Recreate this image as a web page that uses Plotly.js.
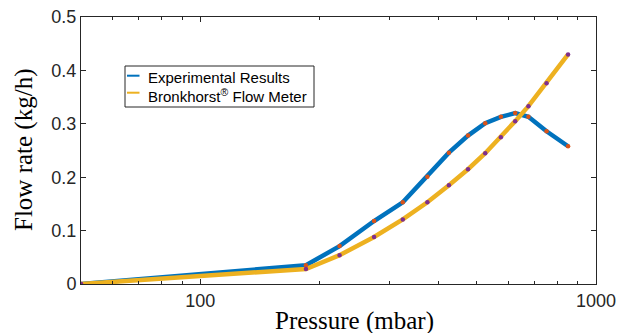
<!DOCTYPE html>
<html>
<head>
<meta charset="utf-8">
<script src="https://cdn.plot.ly/plotly-3.0.1.min.js"></script>
<style>html,body{margin:0;padding:0;background:#fff;}#chart{width:629px;height:333px;}</style>
</head>
<body>
<div id="chart"></div>
<script>
// Data
const pressure = [50, 185, 225, 275, 325, 375, 425, 475, 525, 575, 625, 675, 750, 850];
const experimental = [0, 0.035, 0.071, 0.118, 0.153, 0.201, 0.246, 0.278, 0.301, 0.313, 0.320, 0.313, 0.286, 0.258];
const bronkhorst = [0, 0.028, 0.054, 0.088, 0.121, 0.153, 0.185, 0.215, 0.245, 0.275, 0.305, 0.333, 0.376, 0.430];
const seriesNames = ['Experimental Results', 'Bronkhorst<sup>®</sup> Flow Meter'];
const xMajorTicks = [100, 1000];
const xMajorLabels = ['100', '1000'];
const xMinorTicks = [60, 70, 80, 90, 200, 300, 400, 500, 600, 700, 800, 900];
const yTicks = [0, 0.1, 0.2, 0.3, 0.4, 0.5];
const yTickLabels = ['0', '0.1', '0.2', '0.3', '0.4', '0.5'];

const BLUE = '#0072BD', YELLOW = '#EDB120', ORANGE = '#D95319', PURPLE = '#7E2F8E';
const AX = '#262626';

const traces = [
  {x: pressure, y: experimental, mode: 'lines', name: seriesNames[0], line: {color: BLUE, width: 4.5}, showlegend: false},
  {x: pressure, y: bronkhorst, mode: 'lines', name: seriesNames[1], line: {color: YELLOW, width: 4.5}, showlegend: false},
  {x: pressure, y: experimental, mode: 'markers', marker: {color: ORANGE, size: 4.5}, showlegend: false, hoverinfo: 'skip'},
  {x: pressure, y: bronkhorst, mode: 'markers', marker: {color: PURPLE, size: 4.5}, showlegend: false, hoverinfo: 'skip'}
];

// plot area geometry in px (for paper-coordinate placement)
const L = 81, R = 33, T = 17, B = 49, W = 629, H = 333;
const pw = W - L - R, ph = H - T - B;
const px = v => (v - L) / pw;
const py = v => (H - B - v) / ph;

const layout = {
  width: W, height: H,
  margin: {l: L, r: R, t: T, b: B, pad: 0},
  paper_bgcolor: '#fff', plot_bgcolor: '#fff',
  showlegend: false,
  font: {family: 'Liberation Sans, Arial, sans-serif', color: AX},
  xaxis: {
    type: 'log', range: [Math.log10(50), 3],
    tickmode: 'array', tickvals: xMajorTicks, ticktext: xMajorLabels,
    ticks: 'inside', ticklen: 5, tickwidth: 1, tickcolor: AX,
    minor: {tickmode: 'array', tickvals: xMinorTicks, ticks: 'inside', ticklen: 3, tickwidth: 1, tickcolor: AX, showgrid: false},
    showline: true, linecolor: AX, linewidth: 1, mirror: 'ticks',
    showgrid: false, zeroline: false,
    tickfont: {size: 18, color: AX, family: 'Liberation Sans, Arial, sans-serif'}
  },
  yaxis: {
    range: [0, 0.5],
    tickmode: 'array', tickvals: yTicks, ticktext: yTickLabels,
    ticks: 'inside', ticklen: 5, tickwidth: 1, tickcolor: AX,
    showline: true, linecolor: AX, linewidth: 1, mirror: 'ticks',
    showgrid: false, zeroline: false,
    tickfont: {size: 18, color: AX, family: 'Liberation Sans, Arial, sans-serif'}
  },
  shapes: [
    {type: 'rect', xref: 'paper', yref: 'paper', x0: px(125), x1: px(314), y0: py(107), y1: py(66),
     line: {color: AX, width: 1}, fillcolor: '#fff', layer: 'above'},
    {type: 'line', xref: 'paper', yref: 'paper', x0: px(127), x1: px(139.5), y0: py(75.7), y1: py(75.7),
     line: {color: BLUE, width: 2}, layer: 'above'},
    {type: 'line', xref: 'paper', yref: 'paper', x0: px(127), x1: px(139.5), y0: py(92.7), y1: py(92.7),
     line: {color: YELLOW, width: 2}, layer: 'above'}
  ],
  annotations: [
    {text: seriesNames[0], xref: 'paper', yref: 'paper', x: px(145.5), y: py(77.5), xanchor: 'left', yanchor: 'middle',
     showarrow: false, font: {size: 15, color: '#000', family: 'Liberation Sans, Arial, sans-serif'}},
    {text: seriesNames[1], xref: 'paper', yref: 'paper', x: px(145.5), y: py(95), xanchor: 'left', yanchor: 'middle',
     showarrow: false, font: {size: 15, color: '#000', family: 'Liberation Sans, Arial, sans-serif'}},
    {text: 'Pressure (mbar)', xref: 'paper', yref: 'paper', x: px(354), y: py(321), xanchor: 'center', yanchor: 'middle',
     showarrow: false, font: {size: 25, color: '#000', family: 'Liberation Serif, Times New Roman, serif'}},
    {text: 'Flow rate (kg/h)', xref: 'paper', yref: 'paper', x: px(24), y: py(150), xanchor: 'center', yanchor: 'middle',
     textangle: -90, showarrow: false, font: {size: 25, color: '#000', family: 'Liberation Serif, Times New Roman, serif'}}
  ]
};

Plotly.newPlot('chart', traces, layout, {staticPlot: true, displayModeBar: false});
</script>
</body>
</html>
